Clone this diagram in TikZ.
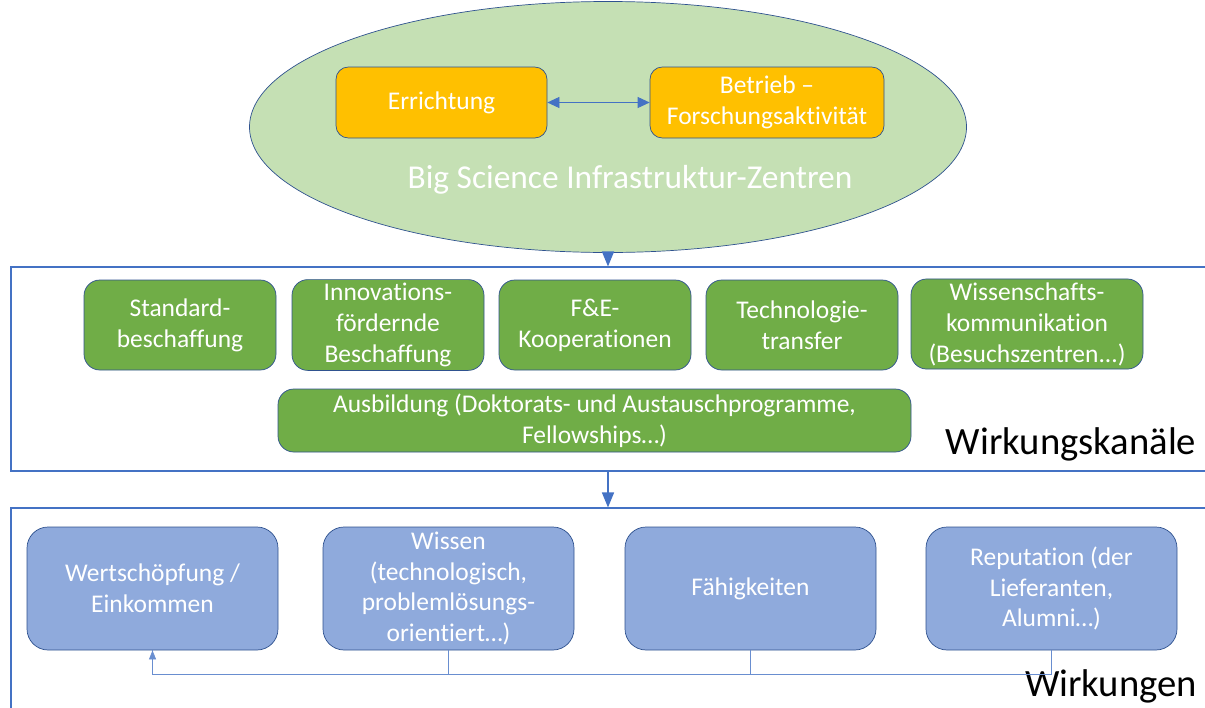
\documentclass[tikz,border=0pt]{standalone}
\usepackage{fontspec}
\setmainfont{Carlito}[Ligatures=NoCommon]
\usepackage{xcolor}
\usepackage{tikz}
\usetikzlibrary{arrows.meta, positioning, shapes.geometric}

\definecolor{bsgreenlight}{HTML}{C5E0B4}
\definecolor{bsgreen}{HTML}{70AD47}
\definecolor{bsorange}{HTML}{FFC000}
\definecolor{bsblue}{HTML}{8FAADC}
\definecolor{bsline}{HTML}{4472C4}
\definecolor{bsborder}{HTML}{2F528F}

\begin{document}
\begin{tikzpicture}[
      box/.style={draw=bsborder, rounded corners=9pt, align=center,
                  text=white, inner sep=2pt,
                  font=\fontsize{14.5}{17.6}\selectfont},
      kanal/.style={box, fill=bsgreen, minimum width=3.84cm,
                  minimum height=1.8cm},
      wirkung/.style={box, fill=bsblue, minimum width=5.02cm,
                  minimum height=2.46cm, rounded corners=12pt},
      frame/.style={draw=bsline, semithick, inner sep=0pt},
      title/.style={font=\fontsize{22}{26}\selectfont},
      arr/.style={-{Triangle[length=3mm, width=2.4mm]}, bsline, thick},
      thinarr/.style={-{Triangle[length=1.8mm, width=1.4mm]}, bsline!80, thin}
    ]
      \useasboundingbox (0,0) rectangle (24.1,-14.14);

      % Zentren
      \node[ellipse, draw=bsborder, fill=bsgreenlight, minimum width=14.34cm,
            minimum height=5.02cm, inner sep=0pt] (zentren) at (12.16,-2.54) {};
      \node[box, fill=bsorange, minimum width=4.22cm, minimum height=1.42cm,
            rounded corners=7pt] (err) at (8.83,-2.05) {Errichtung};
      \node[box, fill=bsorange, minimum width=4.68cm, minimum height=1.42cm,
            rounded corners=7pt] (betr) at (15.34,-2.05) {Betrieb --\\Forschungsaktivität};
      \draw[{Triangle[length=2.4mm, width=2.2mm]}-{Triangle[length=2.4mm, width=2.2mm]},
            bsline] (err) -- (betr);
      \node[text=white, font=\fontsize{19}{23}\selectfont] (zlabel) at (12.6,-3.6)
            {Big Science Infrastruktur-Zentren};

      % Wirkungskanaele
      \node[frame, minimum width=24.08cm, minimum height=4.08cm] (kan) at (12.26,-7.38) {};
      \node[kanal] (k1) at (3.6,-6.5)   {Standard-\\beschaffung};
      \node[kanal] (k2) at (7.76,-6.5)  {Innovations-\\fördernde\\Beschaffung};
      \node[kanal] (k3) at (11.9,-6.5)  {F\&E-\\Kooperationen};
      \node[kanal] (k4) at (16.04,-6.5) {Technologie-\\transfer};
      \node[kanal, minimum width=4.64cm] (k5) at (20.54,-6.48)
            {Wissenschafts-\\kommunikation\\(Besuchszentren...)};
      \node[kanal, minimum width=12.66cm, minimum height=1.26cm] (k6) at (11.89,-8.41)
            {Ausbildung (Doktorats- und Austauschprogramme,\\Fellowships…)};
      \node[title] (kanlabel) at (21.42,-8.88) {Wirkungskanäle};
      \draw[arr] (zentren.south) -- (zentren.south |- kan.north);

      % Wirkungen
      \node[frame, minimum width=24.08cm, minimum height=4.4cm] (wir) at (12.26,-12.36) {};
      \node[wirkung] (w1) at (3.05,-11.77)  {Wertschöpfung /\\Einkommen};
      \node[wirkung] (w2) at (8.97,-11.77)  {Wissen\\(technologisch,\\problemlösungs-\\orientiert…)};
      \node[wirkung] (w3) at (15.01,-11.77) {Fähigkeiten};
      \node[wirkung] (w4) at (21.03,-11.77) {Reputation (der\\Lieferanten,\\Alumni…)};
      \node[title] (wirlabel) at (22.22,-13.72) {Wirkungen};
      \draw[arr] (zentren.south |- kan.south) -- (zentren.south |- wir.north);

      \draw[bsline!80, thin] (w4.south) -- ++(0,-0.48) -| (w1.south);
      \draw[bsline!80, thin] (w3.south) -- ++(0,-0.48);
      \draw[thinarr] (w2.south) -- ++(0,-0.48) -| (w1.south);
    \end{tikzpicture}
\end{document}
